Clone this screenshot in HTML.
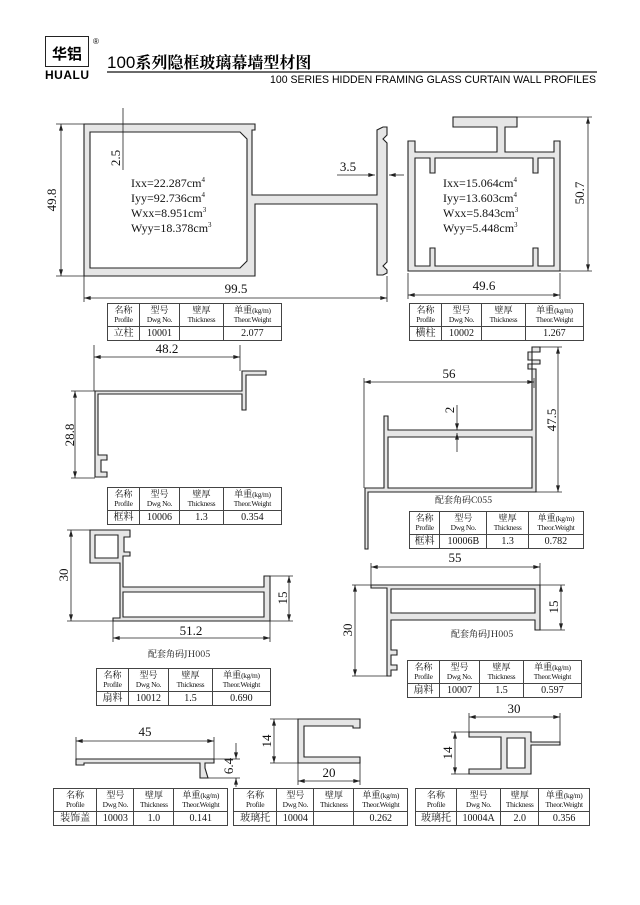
<!DOCTYPE html>
<html><head><meta charset="utf-8">
<style>
body{margin:0;background:#fff;width:640px;height:905px;position:relative;overflow:hidden;font-family:"Liberation Serif","Noto Serif CJK SC",serif;}
table.t{position:absolute;border-collapse:collapse;width:175px;font-family:"Liberation Serif","Noto Serif CJK SC",serif;color:#111}
table.t td{border:1px solid #444;text-align:center;padding:0;line-height:9px;font-size:9px}
table.t tr.h td{height:22px}
table.t tr.d td{height:13px;font-size:10px;line-height:12px}
table.t td small{font-size:7.5px;letter-spacing:-0.3px}
.dm{marker-start:url(#a);marker-end:url(#a)}
</style></head><body>
<svg width="640" height="905" style="position:absolute;left:0;top:0" font-family="Liberation Serif, Noto Serif CJK SC, serif">
<defs><marker id="a" viewBox="0 0 10 6" refX="10" refY="3" markerWidth="7" markerHeight="4" orient="auto-start-reverse" markerUnits="userSpaceOnUse"><path d="M0 0L10 3L0 6Z" fill="#222"/></marker></defs>
<rect x="45.5" y="36.5" width="43" height="30" fill="none" stroke="#222"/>
<text x="67" y="59" font-size="15" font-weight="bold" text-anchor="middle" font-family="Liberation Sans, Noto Sans CJK SC, sans-serif">华铝</text>
<text x="67" y="79" font-size="12" font-weight="bold" text-anchor="middle" font-family="Liberation Sans, sans-serif" textLength="44">HUALU</text>
<text x="93" y="44" font-size="8" font-family="Liberation Sans, sans-serif">®</text>
<text x="107" y="68" font-size="17" font-family="Liberation Sans, Noto Serif CJK SC, sans-serif">100<tspan font-family="Noto Serif CJK SC, serif" font-size="16" font-weight="bold">系列隐框玻璃幕墙型材图</tspan></text>
<line x1="107" y1="72" x2="597" y2="72" stroke="#111" stroke-width="1.2"/>
<text x="596" y="83" font-size="11" text-anchor="end" font-family="Liberation Sans, sans-serif" textLength="326" lengthAdjust="spacingAndGlyphs">100 SERIES HIDDEN FRAMING GLASS CURTAIN WALL PROFILES</text>

<g stroke="#222" stroke-width="1.1" fill="#e6e6e6">
<path d="M84 124H255V130H252V195H377V130L383 127H387V135L383 139L387 143V262L383 266L387 270V273L383 275H377V204H255V276H84Z"/>
<path fill="#fff" d="M90 132H240L247 139V261L240 268H90Z"/>
<path d="M453 117H517V127H505V152H554V141H560V271H408V141H415V152H497V127H453Z"/>
<path fill="#fff" d="M415 158H430V173H435V158H533V173H538V158H554V266H538V248H533V266H435V248H430V266H415Z"/>
<path d="M95 391H242V371H266V375H246V410H242V394H98V455H107V460H101V472H107V477H95Z"/>
<path d="M532 347H540V352H528V360H540V364H528V369H536V492H368V549H365V488H384V416H388V430H532Z"/>
<path fill="#fff" d="M388 437H532V488H388Z"/>
<path d="M90 530H130V537H124V552H130V556H123V587H264V576H270V621H113V618H120V563H90Z"/>
<path fill="#fff" d="M95 535H118V558H95Z"/>
<path fill="#fff" d="M123 592H264V617H123Z"/>
<path d="M371 585H540V630H535V620H391V650H397V655H391V665H397V670H391V676H387V588H371Z"/>
<path fill="#fff" d="M391 589H535V613H391Z"/>
<path d="M76 759H214V763H205V768L208 778H200V763H84V765H76Z"/>
<path d="M298 719H360V728H353V726H304V757H360V763H298Z"/>
<path d="M469 732H531V742H560V745H531V774H469V769H501V737H469Z"/>
<path fill="#fff" d="M507 738H525V768H507Z"/>
</g>

<g stroke="#222" stroke-width="0.8" fill="none">
<line x1="56" y1="124" x2="84" y2="124"/><line x1="56" y1="276" x2="84" y2="276"/><line class="dm" x1="61" y1="124" x2="61" y2="276"/>
<line x1="84" y1="276" x2="84" y2="302"/><line x1="387" y1="276" x2="387" y2="302"/><line class="dm" x1="84" y1="298" x2="387" y2="298"/>
<line x1="123" y1="108" x2="123" y2="170"/>
<line x1="337" y1="175" x2="375" y2="175" marker-end="url(#a)"/><line x1="404" y1="175" x2="389" y2="175" marker-end="url(#a)"/>
<line x1="517" y1="117" x2="592" y2="117"/><line x1="560" y1="271" x2="592" y2="271"/><line class="dm" x1="588" y1="117" x2="588" y2="271"/>
<line x1="408" y1="273" x2="408" y2="299"/><line x1="560" y1="273" x2="560" y2="299"/><line class="dm" x1="408" y1="295" x2="560" y2="295"/>
<line x1="94" y1="345" x2="94" y2="391"/><line x1="240" y1="345" x2="240" y2="371"/><line class="dm" x1="94" y1="357" x2="240" y2="357"/>
<line x1="71" y1="391" x2="95" y2="391"/><line x1="71" y1="478" x2="95" y2="478"/><line class="dm" x1="75" y1="391" x2="75" y2="478"/>
<line x1="364" y1="378" x2="364" y2="488"/><line x1="534" y1="378" x2="534" y2="388"/><line class="dm" x1="364" y1="382" x2="534" y2="382"/>
<line x1="540" y1="347" x2="562" y2="347"/><line x1="536" y1="492" x2="562" y2="492"/><line class="dm" x1="558" y1="347" x2="558" y2="492"/>
<line x1="457" y1="405" x2="457" y2="430" marker-end="url(#a)"/><line x1="457" y1="452" x2="457" y2="433" marker-end="url(#a)"/>
<line x1="67" y1="530" x2="90" y2="530"/><line x1="67" y1="621" x2="113" y2="621"/><line class="dm" x1="71" y1="530" x2="71" y2="621"/>
<line x1="270" y1="576" x2="293" y2="576"/><line x1="270" y1="621" x2="293" y2="621"/><line class="dm" x1="289" y1="576" x2="289" y2="621"/>
<line x1="113" y1="621" x2="113" y2="642"/><line x1="270" y1="621" x2="270" y2="642"/><line class="dm" x1="113" y1="638" x2="270" y2="638"/>
<line x1="371" y1="563" x2="371" y2="585"/><line x1="540" y1="563" x2="540" y2="585"/><line class="dm" x1="371" y1="567" x2="540" y2="567"/>
<line x1="352" y1="585" x2="371" y2="585"/><line x1="352" y1="676" x2="387" y2="676"/><line class="dm" x1="355" y1="585" x2="355" y2="676"/>
<line x1="540" y1="585" x2="565" y2="585"/><line x1="540" y1="630" x2="565" y2="630"/><line class="dm" x1="561" y1="585" x2="561" y2="630"/>
<line x1="76" y1="737" x2="76" y2="759"/><line x1="214" y1="737" x2="214" y2="759"/><line class="dm" x1="76" y1="741" x2="214" y2="741"/>
<line x1="214" y1="759" x2="240" y2="759"/><line x1="208" y1="778" x2="240" y2="778"/><line x1="236" y1="743" x2="236" y2="759" marker-end="url(#a)"/><line x1="236" y1="787" x2="236" y2="778" marker-end="url(#a)"/>
<line x1="270" y1="719" x2="298" y2="719"/><line x1="270" y1="763" x2="298" y2="763"/><line class="dm" x1="274" y1="719" x2="274" y2="763"/>
<line x1="298" y1="763" x2="298" y2="785"/><line x1="360" y1="763" x2="360" y2="785"/><line class="dm" x1="298" y1="781" x2="360" y2="781"/>
<line x1="469" y1="713" x2="469" y2="732"/><line x1="560" y1="713" x2="560" y2="742"/><line class="dm" x1="469" y1="717" x2="560" y2="717"/>
<line x1="451" y1="732" x2="469" y2="732"/><line x1="451" y1="774" x2="469" y2="774"/><line class="dm" x1="455" y1="732" x2="455" y2="774"/>
</g>

<g fill="#111" font-size="13">
<text x="131" y="187" font-size="12">Ixx=22.287cm<tspan font-size="7" dy="-5">4</tspan></text>
<text x="131" y="202" font-size="12">Iyy=92.736cm<tspan font-size="7" dy="-5">4</tspan></text>
<text x="131" y="217" font-size="12">Wxx=8.951cm<tspan font-size="7" dy="-5">3</tspan></text>
<text x="131" y="232" font-size="12">Wyy=18.378cm<tspan font-size="7" dy="-5">3</tspan></text>
<text x="443" y="187" font-size="12">Ixx=15.064cm<tspan font-size="7" dy="-5">4</tspan></text>
<text x="443" y="202" font-size="12">Iyy=13.603cm<tspan font-size="7" dy="-5">4</tspan></text>
<text x="443" y="217" font-size="12">Wxx=5.843cm<tspan font-size="7" dy="-5">3</tspan></text>
<text x="443" y="232" font-size="12">Wyy=5.448cm<tspan font-size="7" dy="-5">3</tspan></text>
<text x="236" y="293" text-anchor="middle">99.5</text>
<text x="484" y="290" text-anchor="middle">49.6</text>
<text x="348" y="171" text-anchor="middle">3.5</text>
<text transform="translate(56 200) rotate(-90)" text-anchor="middle">49.8</text>
<text transform="translate(120 158) rotate(-90)" text-anchor="middle">2.5</text>
<text transform="translate(584 193) rotate(-90)" text-anchor="middle">50.7</text>
<text x="167" y="353" text-anchor="middle">48.2</text>
<text transform="translate(74 435) rotate(-90)" text-anchor="middle">28.8</text>
<text x="449" y="378" text-anchor="middle">56</text>
<text transform="translate(454 410) rotate(-90)" text-anchor="middle">2</text>
<text transform="translate(556 420) rotate(-90)" text-anchor="middle">47.5</text>
<text x="435" y="503" font-size="9" font-family="Noto Serif CJK SC, serif">配套角码C055</text>
<text transform="translate(68 575) rotate(-90)" text-anchor="middle">30</text>
<text transform="translate(287 598) rotate(-90)" text-anchor="middle">15</text>
<text x="191" y="635" text-anchor="middle">51.2</text>
<text x="148" y="657" font-size="9" font-family="Noto Serif CJK SC, serif">配套角码JH005</text>
<text x="455" y="562" text-anchor="middle">55</text>
<text transform="translate(352 630) rotate(-90)" text-anchor="middle">30</text>
<text transform="translate(558 607) rotate(-90)" text-anchor="middle">15</text>
<text x="451" y="637" font-size="9" font-family="Noto Serif CJK SC, serif">配套角码JH005</text>
<text x="145" y="736" text-anchor="middle">45</text>
<text transform="translate(233 766) rotate(-90)" text-anchor="middle">6.4</text>
<text transform="translate(271 741) rotate(-90)" text-anchor="middle">14</text>
<text x="329" y="777" text-anchor="middle">20</text>
<text x="514" y="713" text-anchor="middle">30</text>
<text transform="translate(452 753) rotate(-90)" text-anchor="middle">14</text>
</g>
</svg>

<table class="t" style="left:107px;top:303px"><tr class="h"><td>名称<br><small>Profile</small></td><td>型号<br><small>Dwg No.</small></td><td>壁厚<br><small>Thickness</small></td><td>单重<small>(kg/m)</small><br><small>Theor.Weight</small></td></tr><tr class="d"><td>立柱</td><td>10001</td><td></td><td>2.077</td></tr></table>
<table class="t" style="left:409px;top:303px"><tr class="h"><td>名称<br><small>Profile</small></td><td>型号<br><small>Dwg No.</small></td><td>壁厚<br><small>Thickness</small></td><td>单重<small>(kg/m)</small><br><small>Theor.Weight</small></td></tr><tr class="d"><td>横柱</td><td>10002</td><td></td><td>1.267</td></tr></table>
<table class="t" style="left:107px;top:487px"><tr class="h"><td>名称<br><small>Profile</small></td><td>型号<br><small>Dwg No.</small></td><td>壁厚<br><small>Thickness</small></td><td>单重<small>(kg/m)</small><br><small>Theor.Weight</small></td></tr><tr class="d"><td>框料</td><td>10006</td><td>1.3</td><td>0.354</td></tr></table>
<table class="t" style="left:409px;top:511px"><tr class="h"><td>名称<br><small>Profile</small></td><td>型号<br><small>Dwg No.</small></td><td>壁厚<br><small>Thickness</small></td><td>单重<small>(kg/m)</small><br><small>Theor.Weight</small></td></tr><tr class="d"><td>框料</td><td>10006B</td><td>1.3</td><td>0.782</td></tr></table>
<table class="t" style="left:96px;top:668px"><tr class="h"><td>名称<br><small>Profile</small></td><td>型号<br><small>Dwg No.</small></td><td>壁厚<br><small>Thickness</small></td><td>单重<small>(kg/m)</small><br><small>Theor.Weight</small></td></tr><tr class="d"><td>扇料</td><td>10012</td><td>1.5</td><td>0.690</td></tr></table>
<table class="t" style="left:407px;top:660px"><tr class="h"><td>名称<br><small>Profile</small></td><td>型号<br><small>Dwg No.</small></td><td>壁厚<br><small>Thickness</small></td><td>单重<small>(kg/m)</small><br><small>Theor.Weight</small></td></tr><tr class="d"><td>扇料</td><td>10007</td><td>1.5</td><td>0.597</td></tr></table>
<table class="t" style="left:53px;top:788px"><tr class="h"><td>名称<br><small>Profile</small></td><td>型号<br><small>Dwg No.</small></td><td>壁厚<br><small>Thickness</small></td><td>单重<small>(kg/m)</small><br><small>Theor.Weight</small></td></tr><tr class="d"><td>装饰盖</td><td>10003</td><td>1.0</td><td>0.141</td></tr></table>
<table class="t" style="left:233px;top:788px"><tr class="h"><td>名称<br><small>Profile</small></td><td>型号<br><small>Dwg No.</small></td><td>壁厚<br><small>Thickness</small></td><td>单重<small>(kg/m)</small><br><small>Theor.Weight</small></td></tr><tr class="d"><td>玻璃托</td><td>10004</td><td></td><td>0.262</td></tr></table>
<table class="t" style="left:415px;top:788px"><tr class="h"><td>名称<br><small>Profile</small></td><td>型号<br><small>Dwg No.</small></td><td>壁厚<br><small>Thickness</small></td><td>单重<small>(kg/m)</small><br><small>Theor.Weight</small></td></tr><tr class="d"><td>玻璃托</td><td>10004A</td><td>2.0</td><td>0.356</td></tr></table>
</body></html>
